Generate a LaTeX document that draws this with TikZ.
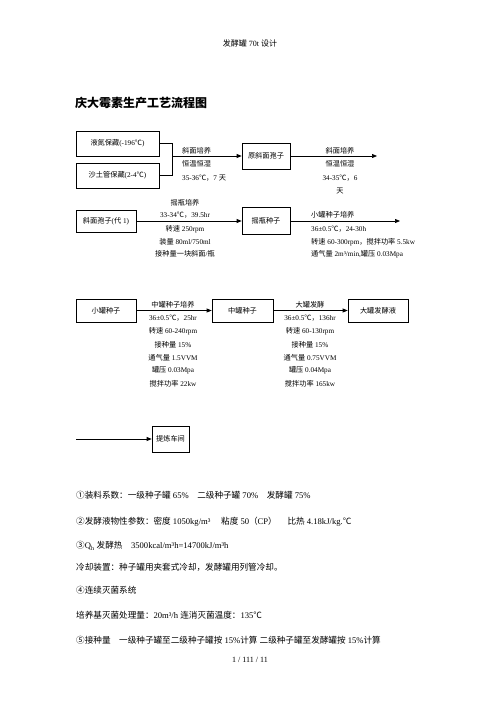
\documentclass[tikz,border=0pt]{standalone}
\usepackage{fontspec}
\setmainfont{Liberation Serif}
\newfontfamily\cjk{Noto Sans CJK SC}
\usetikzlibrary{arrows.meta}
\XeTeXinterchartokenstate=1
\newXeTeXintercharclass\CJKcls
\newcount\cjkc
\cjkc="3000
\loop \XeTeXcharclass\cjkc=\CJKcls \advance\cjkc by 1 \ifnum\cjkc<"A000 \repeat
\cjkc="FF00
\loop \XeTeXcharclass\cjkc=\CJKcls \advance\cjkc by 1 \ifnum\cjkc<"FFF0 \repeat
\XeTeXcharclass"2103=\CJKcls
\XeTeXcharclass"2460=\CJKcls
\XeTeXcharclass"2461=\CJKcls
\XeTeXcharclass"2462=\CJKcls
\XeTeXcharclass"2463=\CJKcls
\XeTeXcharclass"2464=\CJKcls
\XeTeXinterchartoks 0 \CJKcls={\cjk}
\XeTeXinterchartoks 4095 \CJKcls={\cjk}
\XeTeXinterchartoks \CJKcls 0={\rmfamily}
\XeTeXinterchartoks \CJKcls 4095={\rmfamily}
\begin{document}
\begin{tikzpicture}[x=1pt,y=-1pt,
 box/.style={draw,line width=0.7pt,inner sep=0pt,font=\fontsize{7.2}{8}\selectfont},
 lbl/.style={inner sep=0pt,font=\fontsize{7.2}{8}\selectfont},
 arr/.style={line width=0.7pt,-{Triangle[length=5pt,width=4pt]}},
 ln/.style={line width=0.7pt},
 txt/.style={inner sep=0pt,anchor=west,font=\fontsize{8.6}{10}\selectfont}]
\useasboundingbox (0,0) rectangle (500,708);
% header and title
\node[inner sep=0pt,font=\fontsize{8}{9}\selectfont] (hdr) at (250,43) {发酵罐 70t 设计};
\node[inner sep=0pt,anchor=west,font=\fontsize{12}{14}\selectfont\bfseries] (title) at (75,103) {庆大霉素生产工艺流程图};
% row 1
\node[box,minimum width=83pt,minimum height=25pt] (b1) at (117.5,143.5) {液氮保藏(-196℃)};
\node[box,minimum width=83pt,minimum height=25pt] (b2) at (117.5,175.5) {沙土管保藏(2-4℃)};
\node[box,minimum width=48pt,minimum height=26pt] (b3) at (266,156) {原斜面孢子};
\coordinate (jt) at (172,143.5);
\coordinate (jb) at (172,175.5);
\coordinate (jm) at (172,156);
\coordinate (e1) at (377,156);
\draw[ln] (b1.east) -- (jt) -- (jb) -- (b2.east);
\draw[arr] (jm) -- (b3);
\draw[arr] (b3) -- (e1);
\node[lbl,anchor=west] (l11) at (182,151) {斜面培养};
\node[lbl,anchor=west] (l12) at (182,164) {恒温恒湿};
\node[lbl,anchor=west] (l13) at (182,178) {35-36℃，7 天};
\node[lbl] (r11) at (340,151) {斜面培养};
\node[lbl] (r12) at (340,164) {恒温恒湿};
\node[lbl] (r13) at (340,178) {34-35℃，6};
\node[lbl] (r14) at (340,191) {天};
% row 2
\node[box,minimum width=60pt,minimum height=22pt] (b4) at (106,221) {斜面孢子(代 1)};
\node[box,minimum width=48pt,minimum height=27pt] (b5) at (266,221) {摇瓶种子};
\coordinate (e2) at (400,221);
\draw[arr] (b4) -- (b5);
\draw[arr] (b5) -- (e2);
\node[lbl] (l21) at (185,203) {摇瓶培养};
\node[lbl] (l22) at (185,215) {33-34℃，39.5hr};
\node[lbl] (l23) at (185,229) {转速 250rpm};
\node[lbl] (l24) at (185,242) {装量 80ml/750ml};
\node[lbl] (l25) at (185,254) {接种量一块斜面/瓶};
\node[lbl,anchor=west] (r21) at (311,215) {小罐种子培养};
\node[lbl,anchor=west] (r22) at (311,229) {36±0.5℃，24-30h};
\node[lbl,anchor=west] (r23) at (311,242) {转速 60-300rpm，搅拌功率 5.5kw};
\node[lbl,anchor=west] (r24) at (311,254) {通气量 2m³/min,罐压 0.03Mpa};
% row 3
\node[box,minimum width=60pt,minimum height=23pt] (b6) at (106,310.5) {小罐种子};
\node[box,minimum width=61pt,minimum height=23pt] (b7) at (242.5,310.5) {中罐种子};
\node[box,minimum width=60pt,minimum height=23pt] (b8) at (378,310.5) {大罐发酵液};
\draw[arr] (b6) -- (b7);
\draw[arr] (b7) -- (b8);
\node[lbl] (l31) at (173,305) {中罐种子培养};
\node[lbl] (l32) at (173,318.5) {36±0.5℃，25hr};
\node[lbl] (l33) at (173,331.5) {转速 60-240rpm};
\node[lbl] (l34) at (173,344.5) {接种量 15\%};
\node[lbl] (l35) at (173,357.5) {通气量 1.5VVM};
\node[lbl] (l36) at (173,370.5) {罐压 0.03Mpa};
\node[lbl] (l37) at (173,383.5) {搅拌功率 22kw};
\node[lbl] (r31) at (310,305) {大罐发酵};
\node[lbl] (r32) at (310,318.5) {36±0.5℃，136hr};
\node[lbl] (r33) at (310,331.5) {转速 60-130rpm};
\node[lbl] (r34) at (310,344.5) {接种量 15\%};
\node[lbl] (r35) at (310,357.5) {通气量 0.75VVM};
\node[lbl] (r36) at (310,370.5) {罐压 0.04Mpa};
\node[lbl] (r37) at (310,383.5) {搅拌功率 165kw};
% row 4
\node[box,minimum width=37pt,minimum height=26pt] (b9) at (170.5,439) {提炼车间};
\coordinate (s4) at (76,439);
\draw[arr] (s4) -- (b9);
% notes
\node[txt] (t1) at (76,495) {①装料系数：一级种子罐 65\%　二级种子罐 70\%　发酵罐 75\%};
\node[txt] (t2) at (76,522) {②发酵液物性参数：密度 1050kg/m³　 粘度 50（CP）　 比热 4.18kJ/kg.℃};
\node[txt] (t3) at (76,546) {③Q\textsubscript{h} 发酵热　3500kcal/m³h=14700kJ/m³h};
\node[txt] (t4) at (76,567) {冷却装置：种子罐用夹套式冷却，发酵罐用列管冷却。};
\node[txt] (t5) at (76,590) {④连续灭菌系统};
\node[txt] (t6) at (76,615) {培养基灭菌处理量：20m³/h 连消灭菌温度：135℃};
\node[txt] (t7) at (76,640) {⑤接种量　一级种子罐至二级种子罐按 15\%计算 二级种子罐至发酵罐按 15\%计算};
\node[inner sep=0pt,font=\fontsize{8}{9}\selectfont] (pg) at (250,660) {1 / 111 / 11};
\end{tikzpicture}
\end{document}
